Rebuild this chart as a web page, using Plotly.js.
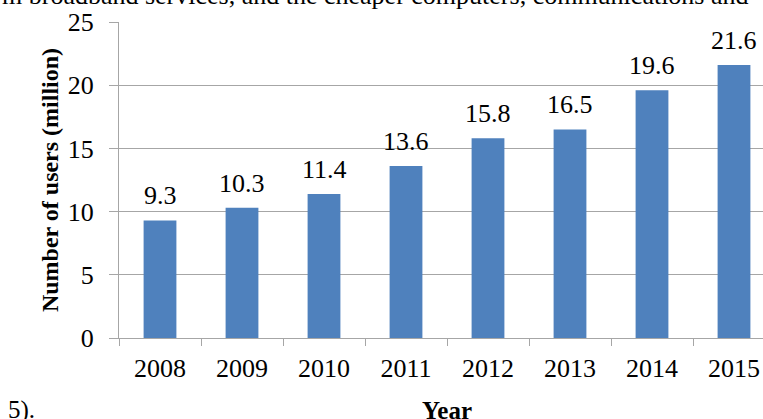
<!DOCTYPE html>
<html>
<head>
<meta charset="utf-8">
<script src="https://cdn.plot.ly/plotly-3.0.1.min.js"></script>
<style>
  html, body { margin: 0; padding: 0; overflow: hidden; background: #fff; }
  #chart { width: 790px; height: 419px; }
</style>
</head>
<body>
<div id="chart"></div>
<script>
const years = ['2008', '2009', '2010', '2011', '2012', '2013', '2014', '2015'];
const users = [9.3, 10.3, 11.4, 13.6, 15.8, 16.5, 19.6, 21.6];
const userLabels = ['9.3', '10.3', '11.4', '13.6', '15.8', '16.5', '19.6', '21.6'];
const yTicks = [0, 5, 10, 15, 20, 25];
const xTitle = 'Year';
const yTitle = 'Number of users (million)';
const topText = 'm broadband services, and the cheaper computers, communications and';
const bottomText = '5).';

const serif = 'Liberation Serif';
const gridCol = '#a6a6a6';
const W = 790, ML = 119, MR = 15;
const PW = W - ML - MR;
const px = (p) => (p - ML) / PW;

const trace = {
  type: 'bar',
  x: years,
  y: users,
  marker: { color: '#4f81bd', line: { width: 0 } },
  hoverinfo: 'x+y'
};

const labelAnn = years.map((yr, i) => ({
  x: i, y: users[i], xref: 'x', yref: 'y',
  text: userLabels[i], showarrow: false,
  yanchor: 'bottom', xanchor: 'center', yshift: 8,
  font: { family: serif, size: 26, color: '#000' }
}));

const layout = {
  width: W, height: 419,
  margin: { l: ML, r: MR, t: 22, b: 81, pad: 0 },
  paper_bgcolor: '#fff', plot_bgcolor: '#fff',
  bargap: 0.6,
  showlegend: false,
  font: { family: serif, color: '#000' },
  xaxis: {
    type: 'category',
    range: [-0.5, years.length - 0.5],
    showgrid: false,
    showline: true, linecolor: gridCol, linewidth: 1,
    ticks: 'outside', tickson: 'boundaries', ticklen: 7, tickcolor: gridCol,
    tickfont: { family: serif, size: 26, color: '#000' },
    tickangle: 0,
    ticklabelstandoff: 7,
    automargin: false
  },
  yaxis: {
    range: [0, 25],
    tickvals: yTicks,
    showgrid: true, gridcolor: gridCol, gridwidth: 1,
    showline: true, linecolor: gridCol, linewidth: 1,
    ticks: 'outside', ticklen: 9, tickcolor: gridCol,
    tickfont: { family: serif, size: 26, color: '#000' },
    ticklabelstandoff: 10,
    zeroline: false,
    title: { text: '<b>' + yTitle + '</b>', font: { family: serif, size: 24, color: '#000' }, standoff: 2 },
    automargin: false
  },
  annotations: labelAnn.concat([
    { xref: 'paper', yref: 'paper', x: 0.5, y: 0, yshift: -57, xanchor: 'center', yanchor: 'top',
      text: '<b>' + xTitle + '</b>', showarrow: false, font: { family: serif, size: 25, color: '#000' } },
    { xref: 'paper', yref: 'paper', x: px(0), y: 1, yshift: 10, xanchor: 'left', yanchor: 'bottom',
      text: topText, showarrow: false, font: { family: serif, size: 26, color: '#000' } },
    { xref: 'paper', yref: 'paper', x: px(6), y: 0, yshift: -56, xanchor: 'left', yanchor: 'top',
      text: bottomText, showarrow: false, font: { family: serif, size: 25, color: '#000' } }
  ])
};

Plotly.newPlot('chart', [trace], layout, { displayModeBar: false, staticPlot: true });
</script>
</body>
</html>
